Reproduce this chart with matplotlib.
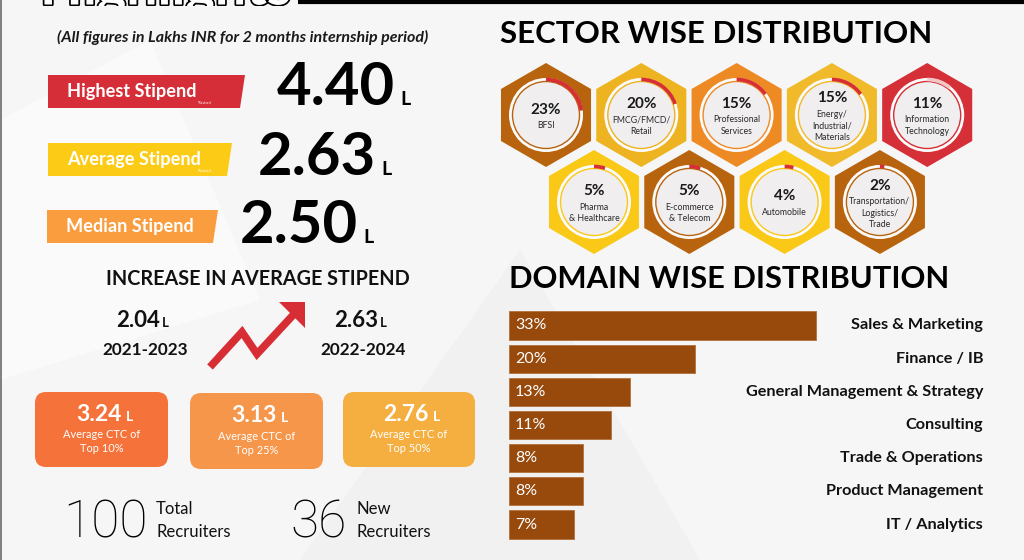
import numpy as np
import matplotlib
matplotlib.use("Agg")
import matplotlib.pyplot as plt
from matplotlib.patches import Polygon, RegularPolygon, Circle, Arc, FancyBboxPatch, Rectangle
import matplotlib.patheffects as pe

plt.rcParams['font.family'] = ['Lato', 'DejaVu Sans']

# ---------------- data ----------------
subtitle = "(All figures in Lakhs INR for 2 months internship period)"
stipend_labels = ["Highest Stipend", "Average Stipend", "Median Stipend"]
stipend_values = [4.40, 2.63, 2.50]
stipend_colors = ["#D62E38", "#FBCB16", "#F99D3F"]

increase_title = "INCREASE IN AVERAGE STIPEND"
increase_periods = ["2021-2023", "2022-2024"]
increase_values = [2.04, 2.63]

ctc_values = [3.24, 3.13, 2.76]
ctc_groups = ["Top 10%", "Top 25%", "Top 50%"]
ctc_colors = ["#F5733A", "#F5964B", "#F4AF40"]

recruiter_counts = [100, 36]
recruiter_labels = [["Total", "Recruiters"], ["New", "Recruiters"]]

sector_names = ["BFSI", "FMCG/FMCD/\nRetail", "Professional\nServices",
                "Energy/\nIndustrial/\nMaterials", "Information\nTechnology",
                "Pharma\n& Healthcare", "E-commerce\n& Telecom", "Automobile",
                "Transportation/\nLogistics/\nTrade"]
sector_pct = [23, 20, 15, 15, 11, 5, 5, 4, 2]
sector_colors = ["#B8640F", "#EDB320", "#EE8A24", "#F1BA2A", "#D52F37",
                 "#FAC917", "#B8640F", "#FAC917", "#B8640F"]

domain_names = ["Sales & Marketing", "Finance / IB", "General Management & Strategy",
                "Consulting", "Trade & Operations", "Product Management", "IT / Analytics"]
domain_pct = [33, 20, 13, 11, 8, 8, 7]

# ---------------- figure ----------------
W, H = 1024, 560
BG = "#F6F6F6"
fig = plt.figure(figsize=(W / 100, H / 100), dpi=100)
fig.patch.set_facecolor(BG)
ax = fig.add_axes([0, 0, 1, 1])
ax.set_xlim(0, W)
ax.set_ylim(H, 0)
ax.axis("off")
ax.set_facecolor(BG)

# faint background shapes
ax.add_patch(Polygon([(300, 560), (520, 250), (700, 560)], closed=True, fc="#F1F1F1", ec="none", zorder=0))
ax.add_patch(Polygon([(0, 120), (150, 40), (260, 300), (0, 380)], closed=True, fc="#FAFAFA", ec="none", zorder=0))

# top black rule and left edge
ax.plot([298, W], [1.5, 1.5], color="black", lw=3, solid_capstyle="butt", zorder=2)

# clipped heading (only its lower edge is visible)
ax.text(40, 4.5, "Highlights", fontsize=40, fontweight="bold", color="white", ha="left",
        va="baseline", path_effects=[pe.withStroke(linewidth=2.5, foreground="black")], zorder=3)
ax.add_patch(Rectangle((20, 5.5), 277, 18, fc=BG, ec="none", zorder=3.5))
ax.plot([1, 1], [0, H], color="#6A6A6A", lw=1.2, zorder=4)

ax.text(243, 37, subtitle, fontsize=11.5, fontweight="bold", fontstyle="italic",
        color="#1A1A1A", ha="center", va="center", zorder=4)

# stipend ribbons
rib = [((48, 75), 245, 240, 108), ((48, 143), 232, 227, 176), ((47, 210), 218, 213, 243)]
num_x = [277, 258, 240]
num_base = [105, 175, 243]
for i, (lab, val, col) in enumerate(zip(stipend_labels, stipend_values, stipend_colors)):
    (x0, y0), xt, xb, y1 = rib[i]
    ax.add_patch(Polygon([(x0, y0), (xt, y0), (xb, y1), (x0, y1)], closed=True, fc=col, ec="none", zorder=3))
    ax.text(x0 + 19, (y0 + y1) / 2, lab, fontsize=13.1, fontweight="bold", color="white",
            ha="left", va="center", zorder=4)
    if i < 2:
        ax.text(x0 + 150, y1 - 5, "*Revised", fontsize=2.5, color="white", ha="left", va="center", zorder=4)
    ax.text(num_x[i], num_base[i], f"{val:.2f}", fontsize=43, fontweight="bold",
            color="black", ha="left", va="baseline", zorder=4)
    ax.text(num_x[i] + 123, num_base[i], "L", fontsize=14, fontweight="bold", color="black",
            ha="left", va="baseline", zorder=4)

# increase section
ax.text(258, 279, increase_title, fontsize=14.2, fontweight="bold", color="#111111", ha="center", va="center")
for xc, val, per in zip([145, 363], increase_values, increase_periods):
    ax.text(xc - 7, 327, f"{val:.2f}", fontsize=16, fontweight="bold", color="#111", ha="center", va="baseline")
    ax.text(xc + 17, 327, "L", fontsize=9.5, fontweight="bold", color="#111", ha="left", va="baseline")
    ax.text(xc, 350, per, fontsize=12.3, fontweight="bold", color="#111", ha="center", va="center")

arrow_pts = np.array([(210, 367), (242, 332), (257, 354), (295, 313)])
ax.plot(arrow_pts[:, 0], arrow_pts[:, 1], color="#D72E36", lw=5.5, solid_joinstyle="miter",
        solid_capstyle="butt", zorder=4)
ax.add_patch(Polygon([(279, 302), (305, 302), (305, 328)], closed=True, fc="#D72E36", ec="none", zorder=4))

# CTC boxes
boxes = [(35, 392, 133, 75), (190, 393, 133, 76), (343, 392, 132, 75)]
for (bx, by, bw, bh), val, grp, col in zip(boxes, ctc_values, ctc_groups, ctc_colors):
    ax.add_patch(FancyBboxPatch((bx, by), bw, bh, boxstyle="round,pad=0,rounding_size=11",
                                fc=col, ec="none", zorder=3))
    cx = bx + bw / 2
    ax.text(cx - 3, by + 29, f"{val:.2f}", fontsize=16.5, fontweight="bold", color="white",
            ha="center", va="baseline", zorder=4)
    ax.text(cx + 24, by + 29, "L", fontsize=10, fontweight="bold", color="white",
            ha="left", va="baseline", zorder=4)
    ax.text(cx, by + 43, "Average CTC of", fontsize=7.9, color="white", ha="center", va="center", zorder=4)
    ax.text(cx, by + 57, grp, fontsize=7.9, color="white", ha="center", va="center", zorder=4)

# recruiters
for xn, xl, cnt, labs in zip([63, 290], [156, 356], recruiter_counts, recruiter_labels):
    ax.text(xn, 538, f"{cnt}", fontsize=37, family=["Roboto", "DejaVu Sans"], fontweight="light",
            color="black", ha="left", va="baseline")
    ax.text(xl, 509, labs[0], fontsize=12, color="#111", ha="left", va="center")
    ax.text(xl, 532, labs[1], fontsize=12, color="#111", ha="left", va="center")

# sector section
ax.text(500, 34, "SECTOR WISE DISTRIBUTION", fontsize=22.5, fontweight="bold", color="black",
        ha="left", va="center")
R = 52
rows = [(546, 115, 5), (594, 202, 4)]
centers = []
for x0, y0, n in rows:
    for k in range(n):
        centers.append((x0 + k * 95.3, y0))
for (cx, cy), name, pct, col in zip(centers, sector_names, sector_pct, sector_colors):
    ax.add_patch(RegularPolygon((cx, cy), numVertices=6, radius=R, orientation=0,
                                fc=col, ec="none", zorder=3))
    ax.add_patch(Circle((cx, cy), 37, fc="#FBFAFA", ec="none", zorder=4))
    ax.add_patch(Circle((cx, cy), 33.5, fc="#F0EEEE", ec=col, lw=1.0, zorder=5))
    arc_col = "#F4C6C8" if col == "#D52F37" else "#D72E36"
    ax.add_patch(Arc((cx, cy), 71, 71, theta1=270, theta2=270 + 3.6 * pct,
                     color=arc_col, lw=2.6, zorder=6))
    lines = name.split("\n")
    n = len(lines)
    py = cy - 5.5 * n
    ax.text(cx, py, f"{pct}%", fontsize=11, fontweight="bold", color="#1A1A1A",
            ha="center", va="center", zorder=7)
    for j, ln in enumerate(lines):
        ax.text(cx, py + 16 + 11.5 * j, ln, fontsize=6.3, color="#2A2A2A",
                ha="center", va="center", zorder=7)

# domain section
ax.text(509, 279, "DOMAIN WISE DISTRIBUTION", fontsize=22.2, fontweight="bold", color="black",
        ha="left", va="center")

bx0, bx1 = 509, 1009
top, bottom = 308.9, 541.1
axb = fig.add_axes([bx0 / W, 1 - bottom / H, (bx1 - bx0) / W, (bottom - top) / H])
axb.set_xlim(0, (bx1 - bx0) / 9.3)
ypos = np.arange(len(domain_pct))
axb.barh(ypos, domain_pct, height=0.85, color="#98490C", edgecolor="#B0713A", linewidth=0.6, left=0)
axb.set_ylim(len(domain_pct) - 0.5, -0.5)
axb.axis("off")
axb.patch.set_alpha(0)
for y, pct, name in zip(ypos, domain_pct, domain_names):
    axb.text(0.65, y, f"{pct}%", fontsize=11.5, color="white", ha="left", va="center")
    axb.text((983 - bx0) / (bx1 - bx0), y, name, transform=axb.get_yaxis_transform(),
             fontsize=11.7, fontweight="bold", color="#111", ha="right", va="center")

fig.savefig("out.png", dpi=100, facecolor=fig.get_facecolor())
